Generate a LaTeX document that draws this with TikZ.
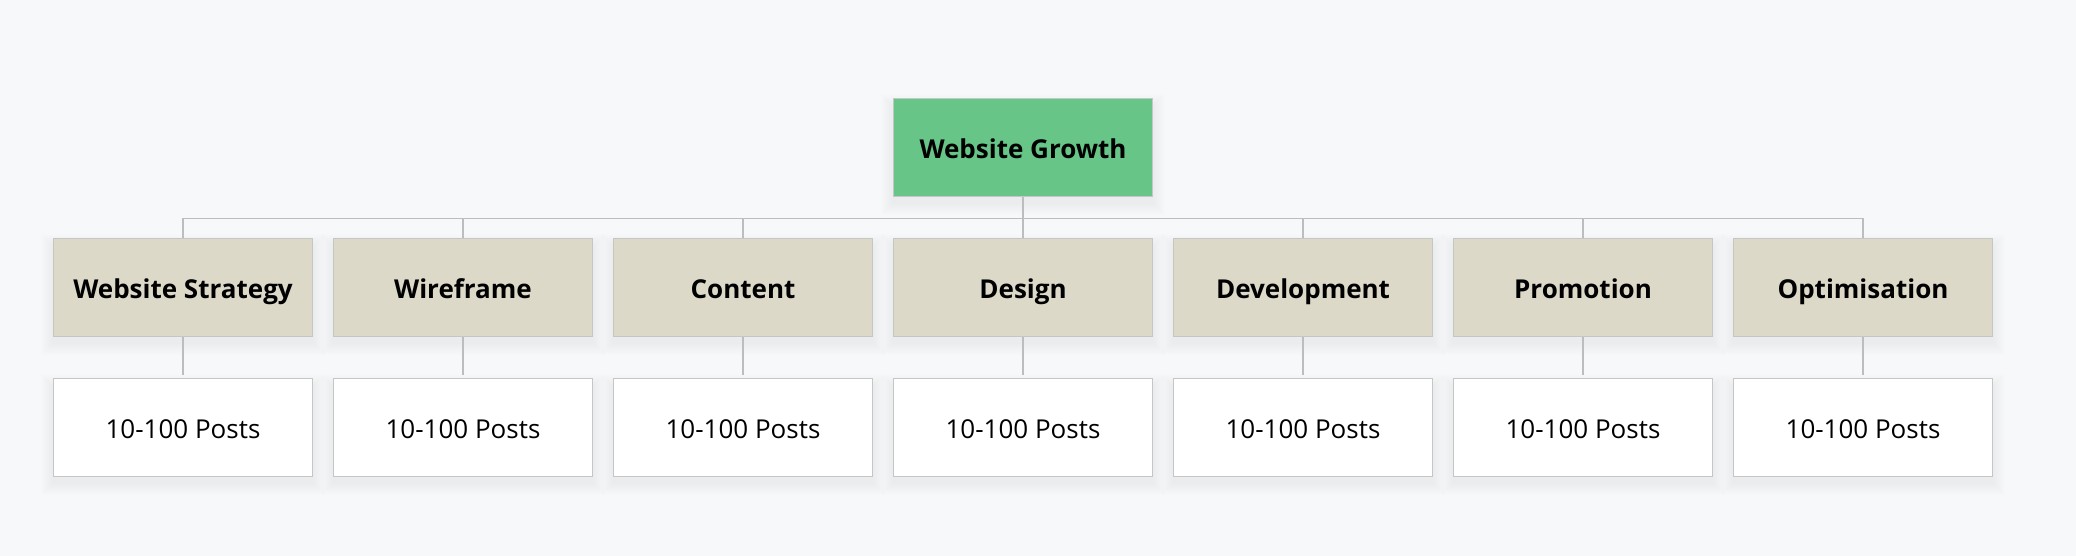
\documentclass[tikz,border=0pt]{standalone}
\usepackage{fontspec}
\setmainfont{Open Sans}
\definecolor{bg}{HTML}{F7F8FA}
\definecolor{rootfill}{HTML}{66C587}
\definecolor{catfill}{HTML}{DCD9C8}
\definecolor{boxline}{HTML}{C6C6C6}
\definecolor{connline}{HTML}{BDBDBD}
\pgfdeclarelayer{bgl}
\pgfdeclarelayer{shl}
\pgfsetlayers{bgl,shl,main}
\tikzset{
  x=1pt,y=-1pt,
  basebox/.style={draw=boxline,line width=1.5pt,minimum width=259pt,minimum height=98pt,inner sep=0pt,
    text height=24pt,text depth=1.7pt,font=\fontsize{26}{30}\selectfont},
  rootbox/.style={basebox,fill=rootfill,font=\fontsize{26}{30}\selectfont\bfseries},
  catbox/.style={basebox,fill=catfill,font=\fontsize{26}{30}\selectfont\bfseries},
  postbox/.style={basebox,fill=white},
  conn/.style={draw=connline,line width=1.4pt},
  softshade/.style={fill=black,fill opacity=0.0045},
}
\newcommand{\boxshade}[1]{%
  \begin{pgfonlayer}{shl}
  \foreach \k in {1,...,12}{
    \fill[softshade] ([xshift=-\k pt,yshift=-\k pt-6pt]#1.south west) rectangle ([xshift=\k pt,yshift=\k pt-8pt]#1.north east);
  }
  \end{pgfonlayer}}
\begin{document}
\begin{tikzpicture}
\begin{pgfonlayer}{bgl}
\fill[bg] (0,0) rectangle (2076,556);
\end{pgfonlayer}
\useasboundingbox (0,0) rectangle (2076,556);
\node[rootbox] (root) at (1023,147.5) {Website Growth};
\boxshade{root}
\foreach \i/\name/\txt in {0/c1/Website Strategy,1/c2/Wireframe,2/c3/Content,3/c4/Design,4/c5/Development,5/c6/Promotion,6/c7/Optimisation}{
  \node[catbox] (\name) at ({183+280*\i},287.5) {\txt};
  \node[postbox] (p\name) at ({183+280*\i},427.5) {10-100 Posts};
  \boxshade{\name}
  \boxshade{p\name}
}
\foreach \name in {c1,c2,c3,c4,c5,c6,c7}{
  \draw[conn] (root.south) -- (root.south |- 0,218.7) -| (\name.north);
  \draw[conn,shorten >=3pt] (\name.south) -- (p\name.north);
}
\end{tikzpicture}
\end{document}
